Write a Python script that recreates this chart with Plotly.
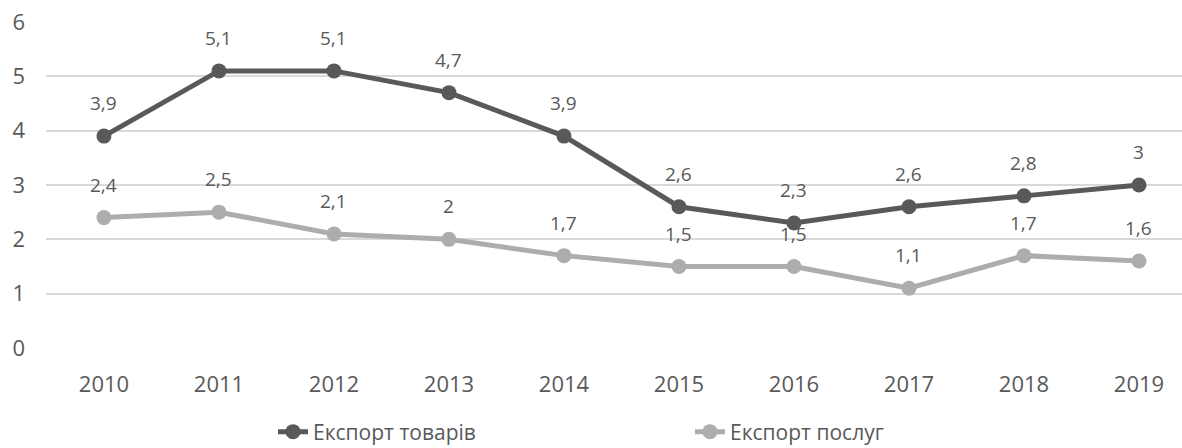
import plotly.graph_objects as go

years = ["2010", "2011", "2012", "2013", "2014", "2015", "2016", "2017", "2018", "2019"]
goods = [3.9, 5.1, 5.1, 4.7, 3.9, 2.6, 2.3, 2.6, 2.8, 3.0]
services = [2.4, 2.5, 2.1, 2.0, 1.7, 1.5, 1.5, 1.1, 1.7, 1.6]
name_goods = "Експорт товарів"
name_services = "Експорт послуг"

c_goods = "#595959"
c_serv = "#ADADAD"
txt = "#595959"
font = "Open Sans"

def fmt(v):
    return ("%g" % v).replace(".", ",")

fig = go.Figure()
fig.add_trace(go.Scatter(x=years, y=goods, name=name_goods, mode="lines+markers",
                         line=dict(color=c_goods, width=5), marker=dict(size=15, color=c_goods)))
fig.add_trace(go.Scatter(x=years, y=services, name=name_services, mode="lines+markers",
                         line=dict(color=c_serv, width=5), marker=dict(size=15, color=c_serv)))

for series in (goods, services):
    for i, y in enumerate(series):
        fig.add_annotation(x=i, y=y, xref="x", yref="y", text=fmt(y), showarrow=False, yshift=33,
                           font=dict(family=font, size=19, color=txt))

H = 462
fig.update_layout(
    width=1182, height=H,
    margin=dict(l=46, r=0, t=22, b=H - 348),
    paper_bgcolor="white", plot_bgcolor="white",
    font=dict(family=font, size=19, color=txt),
    showlegend=True,
    xaxis=dict(type="category", range=[-0.504, 9.374], showgrid=False, zeroline=False,
               showline=False, ticks="", ticklabelstandoff=21,
               tickfont=dict(family=font, size=22, color=txt)),
    yaxis=dict(range=[0, 6], dtick=1, showgrid=True, gridcolor="#D9D9D9", gridwidth=1.5,
               zeroline=False, showline=False, ticks="", ticklabelstandoff=20,
               tickfont=dict(family=font, size=22, color=txt)),
    legend=dict(orientation="h", x=(273 - 46) / 1136, xanchor="left",
                y=-(432 - 348) / 326, yanchor="middle",
                entrywidth=372, entrywidthmode="pixels",
                font=dict(family=font, size=21, color=txt), bgcolor="rgba(0,0,0,0)"),
)

fig.write_html("out.html", config={"displayModeBar": False},
               post_script="document.body.style.margin='0';document.body.style.overflow='hidden';document.documentElement.style.overflow='hidden';")
